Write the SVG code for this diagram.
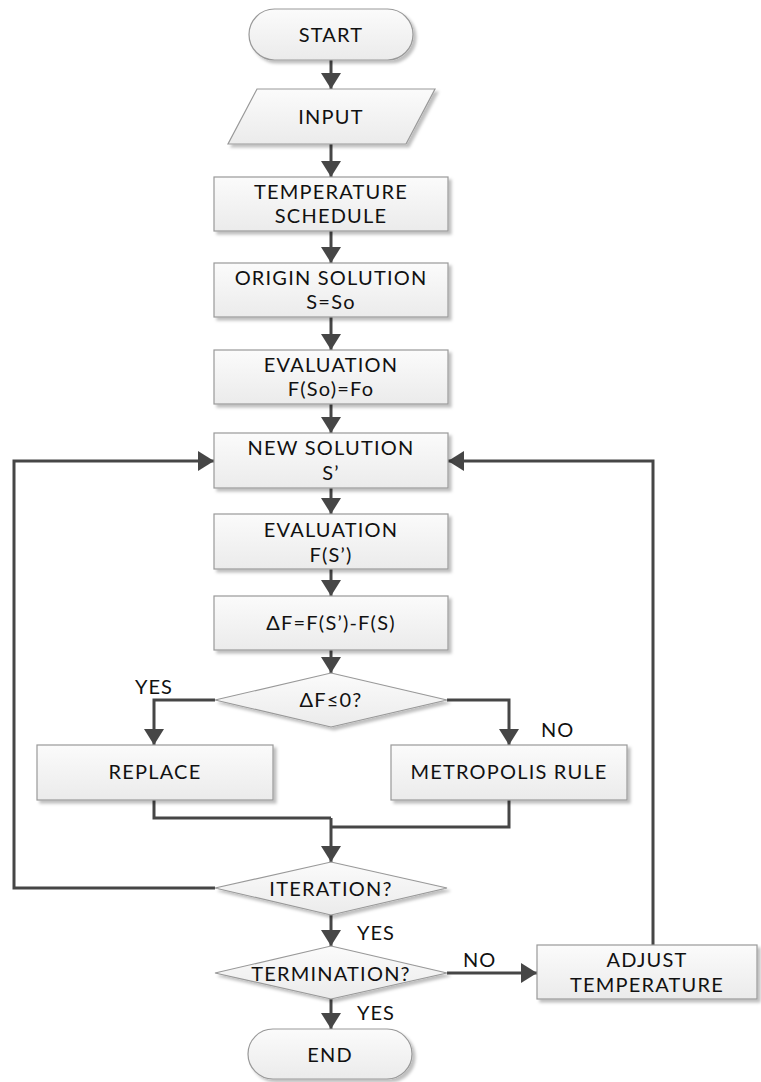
<svg xmlns="http://www.w3.org/2000/svg" width="761" height="1082" viewBox="0 0 761 1082">
  <defs>
    <linearGradient id="fillGrad" x1="0" y1="0" x2="0" y2="1">
      <stop offset="0" stop-color="#fbfbfb"/>
      <stop offset="1" stop-color="#ebebeb"/>
    </linearGradient>
    <filter id="shadow" x="-10%" y="-10%" width="130%" height="140%">
      <feDropShadow dx="3" dy="3" stdDeviation="1.5" flood-color="#000" flood-opacity="0.25"/>
    </filter>
    <marker id="arrow" viewBox="0 0 16 20" refX="16" refY="10" markerWidth="16" markerHeight="20" markerUnits="userSpaceOnUse" orient="auto">
      <path d="M0,0 L16,10 L0,20 z" fill="#464646"/>
    </marker>
  </defs>
  <style>
    .shape { fill: url(#fillGrad); stroke: #999; stroke-width: 1.2; filter: url(#shadow); }
    .label { font-family: Lato, "Liberation Sans", sans-serif; font-size: 20px; letter-spacing: 1.2px; fill: #111; text-anchor: middle; }
    .tag { font-family: Lato, "Liberation Sans", sans-serif; font-size: 20px; letter-spacing: 1px; fill: #111; }
    .conn { fill: none; stroke: #464646; stroke-width: 3; }
  </style>

  <!-- connectors -->
  <g id="connectors">
    <path class="conn" d="M331,60 V89" marker-end="url(#arrow)"/>
    <path class="conn" d="M331,144 V177" marker-end="url(#arrow)"/>
    <path class="conn" d="M331,231 V263" marker-end="url(#arrow)"/>
    <path class="conn" d="M331,317 V350" marker-end="url(#arrow)"/>
    <path class="conn" d="M331,404 V433" marker-end="url(#arrow)"/>
    <path class="conn" d="M331,488 V514" marker-end="url(#arrow)"/>
    <path class="conn" d="M331,569 V596" marker-end="url(#arrow)"/>
    <path class="conn" d="M331,650 V673" marker-end="url(#arrow)"/>
    <!-- decision branches -->
    <path class="conn" d="M215,700 H154 V745" marker-end="url(#arrow)"/>
    <path class="conn" d="M447,700 H509 V745" marker-end="url(#arrow)"/>
    <!-- merge into iteration check -->
    <path class="conn" d="M154,800 V818 H331"/>
    <path class="conn" d="M509,800 V827 H331"/>
    <path class="conn" d="M331,818 V862" marker-end="url(#arrow)"/>
    <!-- iteration loop back -->
    <path class="conn" d="M215,888 H14 V461 H214" marker-end="url(#arrow)"/>
    <path class="conn" d="M331,915 V946" marker-end="url(#arrow)"/>
    <path class="conn" d="M447,973 H537" marker-end="url(#arrow)"/>
    <!-- temperature adjustment loop -->
    <path class="conn" d="M653,945 V461 H448" marker-end="url(#arrow)"/>
    <path class="conn" d="M331,999 V1029" marker-end="url(#arrow)"/>
  </g>

  <!-- branch labels -->
  <g id="branch-labels">
    <text class="tag" x="135" y="694">YES</text>
    <text class="tag" x="541" y="737">NO</text>
    <text class="tag" x="357" y="940">YES</text>
    <text class="tag" x="463" y="967">NO</text>
    <text class="tag" x="357" y="1020">YES</text>
  </g>

  <g id="start">
    <rect class="shape" x="249" y="9" width="164" height="51" rx="25.5"/>
    <text class="label" x="331" y="42">START</text>
  </g>

  <g id="input">
    <polygon class="shape" points="257,89 435,89 406,144 228,144"/>
    <text class="label" x="331" y="124">INPUT</text>
  </g>

  <g id="temperature-schedule">
    <rect class="shape" x="214" y="177" width="234" height="54"/>
    <text class="label" x="331" y="199">TEMPERATURE</text>
    <text class="label" x="331" y="223">SCHEDULE</text>
  </g>

  <g id="origin-solution">
    <rect class="shape" x="214" y="263" width="234" height="54"/>
    <text class="label" x="331" y="285">ORIGIN SOLUTION</text>
    <text class="label" x="331" y="309">S=So</text>
  </g>

  <g id="evaluation-initial">
    <rect class="shape" x="214" y="350" width="234" height="54"/>
    <text class="label" x="331" y="372">EVALUATION</text>
    <text class="label" x="331" y="396">F(So)=Fo</text>
  </g>

  <g id="new-solution">
    <rect class="shape" x="214" y="433" width="234" height="55"/>
    <text class="label" x="331" y="455">NEW SOLUTION</text>
    <text class="label" x="331" y="480">S’</text>
  </g>

  <g id="evaluation-new">
    <rect class="shape" x="214" y="514" width="234" height="55"/>
    <text class="label" x="331" y="537">EVALUATION</text>
    <text class="label" x="331" y="562">F(S’)</text>
  </g>

  <g id="delta">
    <rect class="shape" x="214" y="596" width="234" height="54"/>
    <text class="label" x="331" y="630">ΔF=F(S’)-F(S)</text>
  </g>

  <g id="decision-delta">
    <polygon class="shape" points="331,673 447,700 331,727 215,700"/>
    <text class="label" x="331" y="707">ΔF≤0?</text>
  </g>

  <g id="replace">
    <rect class="shape" x="37" y="745" width="236" height="55"/>
    <text class="label" x="155" y="779">REPLACE</text>
  </g>

  <g id="metropolis-rule">
    <rect class="shape" x="391" y="745" width="236" height="55"/>
    <text class="label" x="509" y="779">METROPOLIS RULE</text>
  </g>

  <g id="iteration">
    <polygon class="shape" points="331,862 447,888 331,915 215,888"/>
    <text class="label" x="331" y="896">ITERATION?</text>
  </g>

  <g id="termination">
    <polygon class="shape" points="331,946 447,973 331,999 215,973"/>
    <text class="label" x="331" y="981">TERMINATION?</text>
  </g>

  <g id="adjust-temperature">
    <rect class="shape" x="537" y="945" width="220" height="54"/>
    <text class="label" x="647" y="967">ADJUST</text>
    <text class="label" x="647" y="992">TEMPERATURE</text>
  </g>

  <g id="end">
    <rect class="shape" x="248" y="1029" width="164" height="50" rx="25"/>
    <text class="label" x="330" y="1062">END</text>
  </g>
</svg>
